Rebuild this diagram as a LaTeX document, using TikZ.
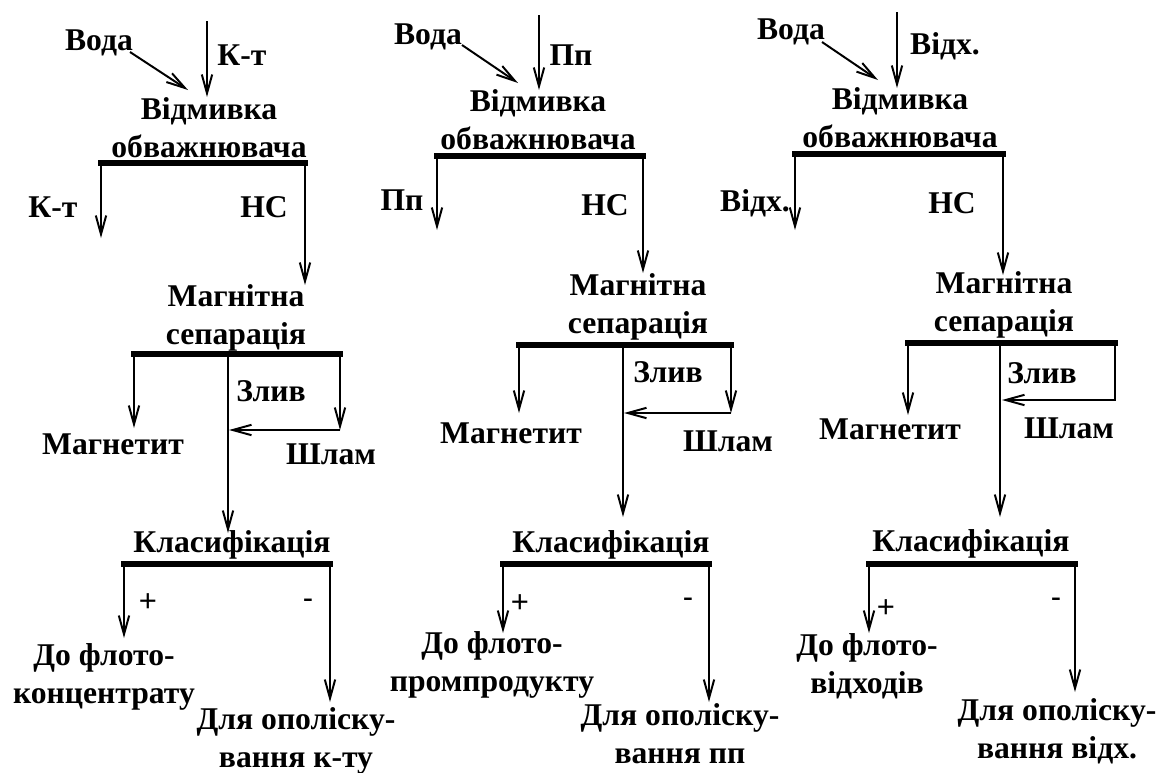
\documentclass[tikz,border=0pt]{standalone}
\usepackage{fontspec}
\setmainfont{Liberation Serif}
\newfontfamily\signfont{Liberation Sans}
\usetikzlibrary{arrows.meta}

\begin{document}
\begin{tikzpicture}[
    x=0.025cm, y=-0.025cm,
    every node/.style={inner sep=0pt},
    txt/.style={font=\fontsize{22.5}{27}\selectfont\bfseries, align=center},
    sign/.style={font=\fontsize{22}{26}\selectfont\signfont},
    flow/.style={line width=1.4pt, -{Straight Barb[length=0.47cm, width=0.26cm]}},
    bar/.style={line width=3.6pt, line cap=rect}
]
    \useasboundingbox (0,0) rectangle (1172,772);

    % --- Left column: concentrate ---
    \node[txt] (LVoda) at (99,43) {Вода};
    \node[txt] (LFeed) at (242,55) {К-т};
    \node[txt] (LWash) at (209,128) {Відмивка\\обважнювача};
    \node[txt] (LProd) at (53,207) {К-т};
    \node[txt] (LNs) at (264,207) {НС};
    \node[txt] (LMag) at (236,318) {Магнітна\\сепарація};
    \node[txt] (LDrain) at (271,391) {Злив};
    \node[txt] (LMagn) at (113,444) {Магнетит};
    \node[txt] (LSlime) at (331,454) {Шлам};
    \node[txt] (LClass) at (232,545) {Класифікація};
    \node[sign] (LPlus) at (148,603) {+};
    \node[sign] (LMinus) at (308,604) {-};
    \node[txt] (LFlot) at (104,677) {До флото-\\концентрату};
    \node[txt] (LRinse) at (296,741) {Для ополіску-\\вання к-ту};

    \coordinate (Lw1) at (130,52);  \coordinate (Lw2) at (188,90);
    \coordinate (Lf1) at (207,21);  \coordinate (Lf2) at (207,97);
    \coordinate (La1) at (101,163); \coordinate (La2) at (305,163);
    \coordinate (Lka) at (101,238); \coordinate (Lnb) at (305,285);
    \coordinate (Lb1) at (134,354); \coordinate (Lb2) at (340,354);
    \coordinate (Lbm) at (228,354); \coordinate (Lmg) at (134,428);
    \coordinate (Lsl) at (340,430); \coordinate (Lsj) at (229,430);
    \coordinate (Lmd) at (228,533);
    \coordinate (Lc1) at (124,564); \coordinate (Lc2) at (330,564);
    \coordinate (Lpl) at (124,638); \coordinate (Lmn) at (330,702);

    \draw[flow] (Lw1) -- (Lw2);
    \draw[flow] (Lf1) -- (Lf2);
    \draw[bar] (La1) -- (La2);
    \draw[flow] (La1) -- (Lka);
    \draw[flow] (La2) -- (Lnb);
    \draw[bar] (Lb1) -- (Lb2);
    \draw[flow] (Lb1) -- (Lmg);
    \draw[flow] (Lb2) -- (Lsl);
    \draw[flow] (Lsl) -- (Lsj);
    \draw[flow] (Lbm) -- (Lmd);
    \draw[bar] (Lc1) -- (Lc2);
    \draw[flow] (Lc1) -- (Lpl);
    \draw[flow] (Lc2) -- (Lmn);

    % --- Middle column: middlings ---
    \node[txt] (MVoda) at (428,37) {Вода};
    \node[txt] (MFeed) at (571,55) {Пп};
    \node[txt] (MWash) at (538,120) {Відмивка\\обважнювача};
    \node[txt] (MProd) at (402,200) {Пп};
    \node[txt] (MNs) at (605,205) {НС};
    \node[txt] (MMag) at (638,307) {Магнітна\\сепарація};
    \node[txt] (MDrain) at (668,372) {Злив};
    \node[txt] (MMagn) at (511,433) {Магнетит};
    \node[txt] (MSlime) at (728,441) {Шлам};
    \node[txt] (MClass) at (611,545) {Класифікація};
    \node[sign] (MPlus) at (520,604) {+};
    \node[sign] (MMinus) at (688,603) {-};
    \node[txt] (MFlot) at (492,665) {До флото-\\промпродукту};
    \node[txt] (MRinse) at (680,734) {Для ополіску-\\вання пп};

    \coordinate (Mw1) at (462,45);  \coordinate (Mw2) at (518,83);
    \coordinate (Mf1) at (539,15);  \coordinate (Mf2) at (539,90);
    \coordinate (Ma1) at (437,156); \coordinate (Ma2) at (643,156);
    \coordinate (Mka) at (437,230); \coordinate (Mnb) at (643,273);
    \coordinate (Mb1) at (519,345); \coordinate (Mb2) at (731,345);
    \coordinate (Mbm) at (623,345); \coordinate (Mmg) at (519,413);
    \coordinate (Msl) at (731,413); \coordinate (Msj) at (624,413);
    \coordinate (Mmd) at (623,517);
    \coordinate (Mc1) at (503,564); \coordinate (Mc2) at (709,564);
    \coordinate (Mpl) at (503,633); \coordinate (Mmn) at (709,702);

    \draw[flow] (Mw1) -- (Mw2);
    \draw[flow] (Mf1) -- (Mf2);
    \draw[bar] (Ma1) -- (Ma2);
    \draw[flow] (Ma1) -- (Mka);
    \draw[flow] (Ma2) -- (Mnb);
    \draw[bar] (Mb1) -- (Mb2);
    \draw[flow] (Mb1) -- (Mmg);
    \draw[flow] (Mb2) -- (Msl);
    \draw[flow] (Msl) -- (Msj);
    \draw[flow] (Mbm) -- (Mmd);
    \draw[bar] (Mc1) -- (Mc2);
    \draw[flow] (Mc1) -- (Mpl);
    \draw[flow] (Mc2) -- (Mmn);

    % --- Right column: tailings ---
    \node[txt] (RVoda) at (791,32) {Вода};
    \node[txt] (RFeed) at (945,46) {Відх.};
    \node[txt] (RWash) at (900,118) {Відмивка\\обважнювача};
    \node[txt] (RProd) at (755,203) {Відх.};
    \node[txt] (RNs) at (952,203) {НС};
    \node[txt] (RMag) at (1004,305) {Магнітна\\сепарація};
    \node[txt] (RDrain) at (1042,373) {Злив};
    \node[txt] (RMagn) at (890,429) {Магнетит};
    \node[txt] (RSlime) at (1069,428) {Шлам};
    \node[txt] (RClass) at (971,544) {Класифікація};
    \node[sign] (RPlus) at (886,609) {+};
    \node[sign] (RMinus) at (1056,603) {-};
    \node[txt] (RFlot) at (867,666) {До флото-\\відходів};
    \node[txt] (RRinse) at (1057,731) {Для ополіску-\\вання відх.};

    \coordinate (Rw1) at (822,42);   \coordinate (Rw2) at (878,80);
    \coordinate (Rf1) at (897,12);   \coordinate (Rf2) at (897,88);
    \coordinate (Ra1) at (795,154);  \coordinate (Ra2) at (1003,154);
    \coordinate (Rka) at (795,230);  \coordinate (Rnb) at (1003,275);
    \coordinate (Rb1) at (908,343);  \coordinate (Rb2) at (1115,343);
    \coordinate (Rbm) at (1000,343); \coordinate (Rmg) at (908,415);
    \coordinate (Rsl) at (1115,400); \coordinate (Rsj) at (1002,400);
    \coordinate (Rmd) at (1000,517);
    \coordinate (Rc1) at (869,564);  \coordinate (Rc2) at (1075,564);
    \coordinate (Rpl) at (869,633);  \coordinate (Rmn) at (1075,692);

    \draw[flow] (Rw1) -- (Rw2);
    \draw[flow] (Rf1) -- (Rf2);
    \draw[bar] (Ra1) -- (Ra2);
    \draw[flow] (Ra1) -- (Rka);
    \draw[flow] (Ra2) -- (Rnb);
    \draw[bar] (Rb1) -- (Rb2);
    \draw[flow] (Rb1) -- (Rmg);
    \draw[flow] (Rb2) -- (Rsl) -- (Rsj);
    \draw[flow] (Rbm) -- (Rmd);
    \draw[bar] (Rc1) -- (Rc2);
    \draw[flow] (Rc1) -- (Rpl);
    \draw[flow] (Rc2) -- (Rmn);

\end{tikzpicture}
\end{document}
